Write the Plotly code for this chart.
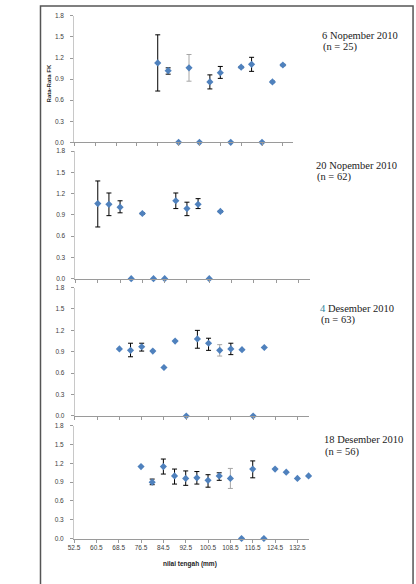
import plotly.graph_objects as go

W, H = 416, 584

# ---------------- data ----------------
# Panel 1: 6 Nopember 2010 (n = 25)
p1_x = [84.5, 88.5, 92.5, 96.5, 100.5, 104.5, 108.5, 112.5, 116.5, 120.5, 124.5, 128.5, 132.5]
p1_y = [1.13, 1.02, 0.0, 1.06, 0.0, 0.86, 0.99, 0.0, 1.07, 1.11, 0.0, 0.86, 1.10]
p1_ep = [0.40, 0.04, 0.0, 0.19, 0.0, 0.10, 0.09, 0.0, 0.01, 0.10, 0.0, 0.01, 0.01]
p1_em = [0.40, 0.05, 0.0, 0.19, 0.0, 0.10, 0.08, 0.0, 0.01, 0.10, 0.0, 0.01, 0.01]
p1_grey = [0, 0, 0, 1, 0, 0, 0, 0, 0, 0, 0, 0, 0]

# Panel 2: 20 Nopember 2010 (n = 62)
p2_x = [60.5, 64.5, 68.5, 72.5, 76.5, 80.5, 84.5, 88.5, 92.5, 96.5, 100.5, 104.5]
p2_y = [1.06, 1.05, 1.01, 0.0, 0.92, 0.0, 0.0, 1.10, 0.99, 1.05, 0.0, 0.95]
p2_ep = [0.32, 0.16, 0.09, 0.0, 0.01, 0.0, 0.0, 0.11, 0.09, 0.08, 0.0, 0.01]
p2_em = [0.33, 0.16, 0.08, 0.0, 0.01, 0.0, 0.0, 0.11, 0.10, 0.06, 0.0, 0.01]
p2_grey = [0, 0, 0, 0, 0, 0, 0, 0, 0, 0, 0, 0]

# Panel 3: 4 Desember 2010 (n = 63)
p3_x = [68.5, 72.5, 76.5, 80.5, 84.5, 88.5, 92.5, 96.5, 100.5, 104.5, 108.5, 112.5, 116.5, 120.5]
p3_y = [0.94, 0.92, 0.97, 0.91, 0.68, 1.05, 0.0, 1.08, 1.02, 0.92, 0.94, 0.93, 0.0, 0.96]
p3_ep = [None, 0.10, 0.05, None, None, None, None, 0.12, 0.07, 0.08, 0.08, None, None, None]
p3_em = [None, 0.09, 0.06, None, None, None, None, 0.13, 0.10, 0.08, 0.08, None, None, None]
p3_grey = [0, 0, 0, 0, 0, 0, 0, 0, 0, 1, 0, 0, 0, 0]

# Panel 4: 18 Desember 2010 (n = 56)
p4_x = [76.5, 80.5, 84.5, 88.5, 92.5, 96.5, 100.5, 104.5, 108.5, 112.5, 116.5, 120.5, 124.5, 128.5, 132.5, 136.5]
p4_y = [1.15, 0.90, 1.15, 1.00, 0.96, 0.97, 0.93, 1.00, 0.96, 0.0, 1.11, 0.0, 1.11, 1.06, 0.96, 1.00]
p4_ep = [None, 0.05, 0.12, 0.11, 0.12, 0.10, 0.09, 0.05, 0.16, None, 0.13, None, None, None, None, None]
p4_em = [None, 0.04, 0.12, 0.13, 0.11, 0.10, 0.11, 0.07, 0.16, None, 0.14, None, None, None, None, None]
p4_grey = [0, 0, 0, 0, 0, 0, 0, 0, 1, 0, 0, 0, 0, 0, 0, 0]

titles = ["6 Nopember 2010", "20 Nopember 2010",
          "<span style='color:#31859C'>4</span> Desember 2010", "18 Desember 2010"]
n_labels = ["(n = 25)", "(n = 62)", "(n = 63)", "(n = 56)"]

x_min, x_max, x_step = 52.5, 136.5, 8
y_min, y_max, y_step = 0.0, 1.8, 0.3

panels = [
    (p1_x, p1_y, p1_ep, p1_em, p1_grey),
    (p2_x, p2_y, p2_ep, p2_em, p2_grey),
    (p3_x, p3_y, p3_ep, p3_em, p3_grey),
    (p4_x, p4_y, p4_ep, p4_em, p4_grey),
]

# pixel layout of the plot areas (left, right, top, bottom)
boxes = [(69.3, 291.5, 12, 140), (70.5, 308.0, 149, 278),
         (69.8, 307.3, 287, 417), (69.0, 307.0, 427, 541)]
title_pos = [(319, 32), (313, 163), (317, 308), (321, 441)]

BLUE = "#4F81BD"
tick_font = dict(family="Liberation Sans", size=6.5, color="#404040")

fig = go.Figure()

def px(x):
    return x / W

def py(y):
    return 1 - y / H

for i, (xs, ys, ep, em, grey) in enumerate(panels):
    k = "" if i == 0 else str(i + 1)
    xa, ya = "x" + k, "y" + k
    for g, col in ((0, "#000000"), (1, "#A6A6A6")):
        idx = [j for j in range(len(xs)) if ep[j] is not None and grey[j] == g]
        if not idx:
            continue
        fig.add_trace(go.Scatter(
            x=[xs[j] for j in idx], y=[ys[j] for j in idx],
            mode="markers", marker=dict(size=1, opacity=0),
            error_y=dict(type="data", symmetric=False,
                         array=[ep[j] for j in idx], arrayminus=[em[j] for j in idx],
                         color=col, thickness=1, width=2.5),
            xaxis=xa, yaxis=ya, showlegend=False, cliponaxis=False, hoverinfo="skip"))
    fig.add_trace(go.Scatter(
        x=xs, y=ys, mode="markers",
        marker=dict(symbol="diamond", size=5.5, color=BLUE, line=dict(width=0)),
        xaxis=xa, yaxis=ya, showlegend=False, cliponaxis=False))

    l, r, t, b = boxes[i]
    xaxis = dict(domain=[px(l), px(r)], range=[x_min, x_max], anchor=ya,
                 tick0=x_min, dtick=x_step, tickformat=".1f",
                 showgrid=False, zeroline=False, showline=True, linecolor="#9A9A9A",
                 linewidth=1, ticks="outside", ticklen=3, tickcolor="#9A9A9A",
                 showticklabels=(i == 3), tickfont=tick_font, fixedrange=True)
    yaxis = dict(domain=[py(b), py(t)], range=[y_min, y_max], anchor=xa,
                 tick0=0, dtick=y_step, tickformat=".1f",
                 showgrid=False, zeroline=False, showline=True, linecolor="#C8C8C8",
                 linewidth=1, ticks="outside", ticklen=3, tickcolor="#9A9A9A",
                 tickfont=tick_font, ticklabelstandoff=5, fixedrange=True)
    fig.layout["xaxis" + k] = xaxis
    fig.layout["yaxis" + k] = yaxis

    tx, ty = title_pos[i]
    fig.add_annotation(x=px(tx), y=py(ty), xref="paper", yref="paper", text=titles[i],
                       showarrow=False, xanchor="left", yanchor="middle",
                       font=dict(family="Liberation Serif", size=10.5, color="#222222"))
    fig.add_annotation(x=px(tx + 1), y=py(ty + 12), xref="paper", yref="paper",
                       text=n_labels[i], showarrow=False, xanchor="left", yanchor="middle",
                       font=dict(family="Liberation Serif", size=10.5, color="#222222"))

fig.add_annotation(x=px(44), y=py(80), xref="paper", yref="paper", text="<b>Rata-Rata FK</b>",
                   textangle=-90, showarrow=False, xanchor="center", yanchor="middle",
                   font=dict(family="Liberation Sans", size=6, color="#222222"))
fig.add_annotation(x=px(187), y=py(567), xref="paper", yref="paper",
                   text="<b>nilai tengah (mm)</b>", showarrow=False,
                   xanchor="center", yanchor="middle",
                   font=dict(family="Liberation Sans", size=6.5, color="#222222"))

fig.add_shape(type="rect", xref="paper", yref="paper",
              x0=px(35), x1=px(413), y0=py(600), y1=py(2),
              line=dict(color="#555555", width=1.5), layer="above")

fig.update_layout(width=W, height=H, margin=dict(l=0, r=0, t=0, b=0),
                  paper_bgcolor="white", plot_bgcolor="white", showlegend=False)

fig.write_html("out.html", config={"displayModeBar": False, "staticPlot": True},
               post_script="document.body.style.margin='0';document.body.style.overflow='hidden';")
